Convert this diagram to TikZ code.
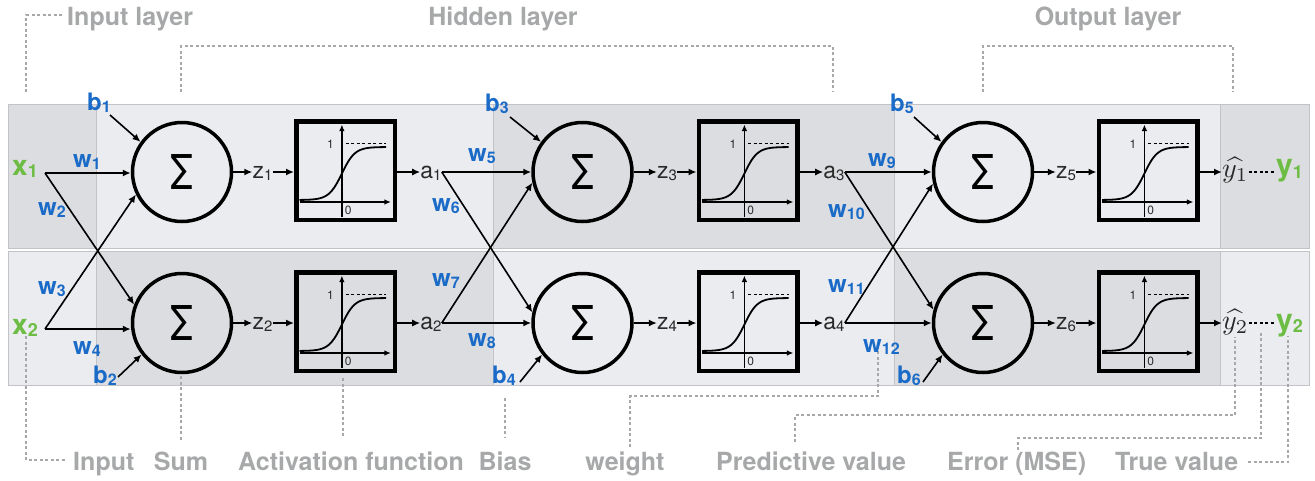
\documentclass[tikz,border=0pt]{standalone}
\usepackage{fontspec}
\setmainfont{TeX Gyre Heros}
\usetikzlibrary{arrows.meta}

\definecolor{cellL}{HTML}{EBECF0}
\definecolor{cellD}{HTML}{DCDDE0}
\definecolor{cellEdge}{HTML}{C2C3C7}
\definecolor{noteGray}{HTML}{A7A8A9}
\definecolor{wBlue}{HTML}{1A6BC8}
\definecolor{inGreen}{HTML}{6DBD45}
\definecolor{varInk}{HTML}{2A2A2A}

% bold symbol with a small, slightly lowered index
\newcommand\idxlab[4]{{\fontsize{#3}{#3}\selectfont\bfseries #1}{\fontsize{#4}{#4}\selectfont\bfseries\raisebox{-2.5pt}{#2}}}
\newcommand\nnW[2]{\idxlab{#1}{#2}{24}{16}}
\newcommand\nnV[2]{{\fontsize{23}{23}\selectfont #1}{\fontsize{15}{15}\selectfont\raisebox{-2pt}{#2}}}
\newcommand\nnHat[1]{\scalebox{2.8}{$\widehat{y_{#1}}$}}
\newcommand\nnSum{\scalebox{0.95}[1.2]{Σ}}

% sigmoid sketch drawn inside an activation box
\newcommand\sigplot[1]{%
  \begin{scope}[shift={(#1.center)}]
    \draw[axisline] (-3.6,46.5) -- (-3.6,-46);
    \draw[axisline] (-46,31.5) -- (45.4,31.5);
    \draw[limline] (0,-26.7) -- (40.7,-26.7);
    \draw[sigcurve] plot[domain=-46:40.7, samples=80, smooth]
      (\x, {29.5 - 53/(1+exp(-(\x+3.6)/6.5))});
    \node[ticklab, anchor=east] at (-11.5,-26.7) {1};
    \node[ticklab] at (2.7,39.5) {0};
  \end{scope}}

\begin{document}
\begin{tikzpicture}[x=1pt, y=-1pt,
  cell/.style={draw=cellEdge, line width=0.8pt},
  sumnode/.style={circle, draw, line width=3.5pt, minimum size=99pt, inner sep=0pt,
    font=\fontsize{40}{40}\selectfont},
  actnode/.style={rectangle, draw, line width=4.5pt, minimum size=98.5pt, inner sep=0pt},
  wire/.style={line width=1.6pt, -{Latex[length=8pt,width=7pt]}},
  axisline/.style={line width=1.4pt, -{Latex[length=6.5pt,width=5.5pt]}},
  sigcurve/.style={line width=1.8pt},
  limline/.style={line width=1.3pt, dash pattern=on 3pt off 2.5pt},
  ticklab/.style={inner sep=0pt, text=varInk, font=\fontsize{12}{12}\selectfont},
  varlab/.style={inner sep=0pt, text=varInk, text height=12pt, text depth=0pt},
  wlab/.style={inner sep=0pt, text=wBlue, anchor=base west},
  glab/.style={inner sep=0pt, text=inGreen, anchor=base west},
  hatlab/.style={inner sep=0pt, text=varInk, anchor=base west},
  notetext/.style={inner sep=0pt, text=noteGray, font=\fontsize{25}{25}\selectfont\bfseries},
  noteline/.style={draw=noteGray, line width=1.2pt, dash pattern=on 3pt off 2.5pt},
  dotlink/.style={line width=1.8pt, dash pattern=on 3pt off 2.5pt},
]
\useasboundingbox (0,0) rectangle (1315,480);

% background bands
\path[cell, fill=cellD] (8,104) rectangle (96,248);
\path[cell, fill=cellL] (96,104) rectangle (493,248);
\path[cell, fill=cellD] (493,104) rectangle (894,248);
\path[cell, fill=cellL] (894,104) rectangle (1220,248);
\path[cell, fill=cellD] (1220,104) rectangle (1309,248);
\path[cell, fill=cellL] (8,251) rectangle (96,385);
\path[cell, fill=cellD] (96,251) rectangle (493,385);
\path[cell, fill=cellL] (493,251) rectangle (894,385);
\path[cell, fill=cellD] (894,251) rectangle (1220,385);
\path[cell, fill=cellL] (1220,251) rectangle (1309,385);

% annotation captions
\node[notetext, anchor=base west] (tIn)   at (67,25)   {Input layer};
\node[notetext, anchor=base]      (tHid)  at (503,25)  {Hidden layer};
\node[notetext, anchor=base]      (tOut)  at (1108,25) {Output layer};
\node[notetext, anchor=base west] (bIn)   at (73,470)  {Input};
\node[notetext, anchor=base]      (bSum)  at (181,470) {Sum};
\node[notetext, anchor=base west] (bAct)  at (238,470) {Activation function};
\node[notetext, anchor=base]      (bBias) at (505,470) {Bias};
\node[notetext, anchor=base]      (bW)    at (625,470) {weight};
\node[notetext, anchor=base west] (bPred) at (716,470) {Predictive value};
\node[notetext, anchor=base west] (bErr)  at (947,470) {Error (MSE)};
\node[notetext, anchor=base west] (bTrue) at (1115,470) {True value};

% annotation brackets
\draw[noteline] (26,92) -- (26,15) -- (62,15);
\draw[noteline] (181,92) -- (181,46) -- (833,46) -- (833,92);
\draw[noteline] (983,92) -- (983,46) -- (1233,46) -- (1233,92);
\draw[noteline] (26,336) -- (26,460) -- (66,460);
\draw[noteline] (181,376) -- (181,440);
\draw[noteline] (343,378) -- (343,438);
\draw[noteline] (505,398) -- (505,437);
\draw[noteline] (630,447) -- (630,396) -- (878,396) -- (878,345);
\draw[noteline] (795,442) -- (795,415) -- (1235,415) -- (1235,337);
\draw[noteline] (1018,450) -- (1018,438) -- (1261,438) -- (1261,331);
\draw[noteline] (1248,462) -- (1288,462) -- (1288,336);

% summation neurons
\node[sumnode] (c1) at (182,172)   {\nnSum};
\node[sumnode] (c2) at (182,323)   {\nnSum};
\node[sumnode] (c3) at (582.5,172) {\nnSum};
\node[sumnode] (c4) at (582.5,323) {\nnSum};
\node[sumnode] (c5) at (983,172)   {\nnSum};
\node[sumnode] (c6) at (983,323)   {\nnSum};

% activation boxes
\node[actnode] (f1) at (345.5,170.5) {};
\node[actnode] (f2) at (345.5,321.5) {};
\node[actnode] (f3) at (748,170.5)   {};
\node[actnode] (f4) at (748,321.5)   {};
\node[actnode] (f5) at (1148,170.5)  {};
\node[actnode] (f6) at (1148,321.5)  {};
\sigplot{f1}\sigplot{f2}\sigplot{f3}\sigplot{f4}\sigplot{f5}\sigplot{f6}

% pre-activations and activations
\node[varlab] (z1) at (262.5,172) {\nnV{z}{1}};
\node[varlab] (z2) at (262.5,323) {\nnV{z}{2}};
\node[varlab] (z3) at (667,172)   {\nnV{z}{3}};
\node[varlab] (z4) at (667,323)   {\nnV{z}{4}};
\node[varlab] (z5) at (1066,172)  {\nnV{z}{5}};
\node[varlab] (z6) at (1066,323)  {\nnV{z}{6}};
\node[varlab] (a1) at (431,172)   {\nnV{a}{1}};
\node[varlab] (a2) at (431,323)   {\nnV{a}{2}};
\node[varlab] (a3) at (834,172)   {\nnV{a}{3}};
\node[varlab] (a4) at (834,323)   {\nnV{a}{4}};

% inputs, predictions and targets
\node[glab] (x1) at (12,175) {\idxlab{x}{1}{28}{18}};
\node[glab] (x2) at (12,334) {\idxlab{x}{2}{28}{18}};
\coordinate (s1) at (45,173);
\coordinate (s2) at (45,329);
\node[hatlab] (yh1) at (1222,177) {\nnHat{1}};
\node[hatlab] (yh2) at (1222,329) {\nnHat{2}};
\node[glab] (y1) at (1276,175.5) {\idxlab{y}{1}{30}{18}};
\node[glab] (y2) at (1276,330)   {\idxlab{y}{2}{30}{18}};

% weights and biases
\node[wlab] (lw1)  at (73,167)  {\nnW{w}{1}};
\node[wlab] (lw2)  at (38,215)  {\nnW{w}{2}};
\node[wlab] (lw3)  at (38,294)  {\nnW{w}{3}};
\node[wlab] (lw4)  at (73,354)  {\nnW{w}{4}};
\node[wlab] (lw5)  at (468,161) {\nnW{w}{5}};
\node[wlab] (lw6)  at (432,211) {\nnW{w}{6}};
\node[wlab] (lw7)  at (432,286) {\nnW{w}{7}};
\node[wlab] (lw8)  at (468,346) {\nnW{w}{8}};
\node[wlab] (lw9)  at (868,166) {\nnW{w}{9}};
\node[wlab] (lw10) at (828,217) {\nnW{w}{10}};
\node[wlab] (lw11) at (828,292) {\nnW{w}{11}};
\node[wlab] (lw12) at (863,352) {\nnW{w}{12}};
\node[wlab] (lb1) at (87,110)  {\nnW{b}{1}};
\node[wlab] (lb2) at (93,383)  {\nnW{b}{2}};
\node[wlab] (lb3) at (485,111) {\nnW{b}{3}};
\node[wlab] (lb4) at (492,383) {\nnW{b}{4}};
\node[wlab] (lb5) at (890,111) {\nnW{b}{5}};
\node[wlab] (lb6) at (897,383) {\nnW{b}{6}};
\coordinate (bs1) at (110,115);
\coordinate (bs2) at (118,377);
\coordinate (bs3) at (510,117);
\coordinate (bs4) at (520,382);
\coordinate (bs5) at (914,117);
\coordinate (bs6) at (923,382);

% input layer connections
\draw[wire] (s1) -- (s1 -| c1.west);
\draw[wire] (s2) -- (s2 -| c2.west);
\draw[wire] (s1) -- (c2.159);
\draw[wire] (s2) -- (c1.206);

% hidden layer connections
\draw[wire] (a1.east) -- (a1.east -| c3.west);
\draw[wire] (a2.east) -- (a2.east -| c4.west);
\draw[wire] (a1.east) -- (c4.168);
\draw[wire] (a2.east) -- (c3.192);

% output layer connections
\draw[wire] (a3.east) -- (a3.east -| c5.west);
\draw[wire] (a4.east) -- (a4.east -| c6.west);
\draw[wire] (a3.east) -- (c6.165);
\draw[wire] (a4.east) -- (c5.193);

% biases
\draw[wire] (bs1) -- (c1.144);
\draw[wire] (bs2) -- (c2.218);
\draw[wire] (bs3) -- (c3.144);
\draw[wire] (bs4) -- (c4.218);
\draw[wire] (bs5) -- (c5.144);
\draw[wire] (bs6) -- (c6.218);

% sum -> z -> activation -> a
\foreach \i in {1,2,3,4,5,6}{
  \draw[wire] (c\i.east) -- (z\i.west);
  \draw[wire] (z\i.east) -- (z\i.east -| f\i.west);
}
\foreach \i in {1,2,3,4}{
  \draw[wire] (a\i.west -| f\i.east) -- (a\i.west);
}
\draw[wire] (z5 -| f5.east) -- (z5 -| yh1.west);
\draw[wire] (z6 -| f6.east) -- (z6 -| yh2.west);

% prediction vs. target
\draw[dotlink] (yh1.east |- z5) -- (y1.west |- z5);
\draw[dotlink] (yh2.east |- z6) -- (y2.west |- z6);
\end{tikzpicture}
\end{document}
